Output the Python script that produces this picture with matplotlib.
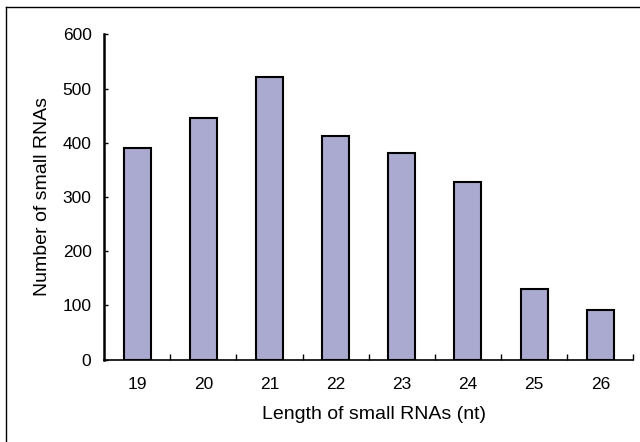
import matplotlib.pyplot as plt
from matplotlib.lines import Line2D

plt.rcParams['font.family'] = ['Liberation Sans', 'DejaVu Sans']

# small RNA length distribution
lengths = ['19', '20', '21', '22', '23', '24', '25', '26']
counts = [390, 446, 522, 413, 382, 327, 131, 92]

fig = plt.figure(figsize=(6.4, 4.42), dpi=100)
ax = fig.add_axes([0.1625, 0.1862, 0.8271, 0.7362])

xpos = range(len(lengths))
ax.bar(xpos, counts, width=0.41, color='#AAAAD0', edgecolor='black', linewidth=1.5, zorder=3)

ax.set_xlim(-0.5, len(lengths) - 0.5)
ax.set_ylim(0, 600)
ax.set_yticks([0, 100, 200, 300, 400, 500, 600])
ax.set_xticks(list(xpos))
ax.set_xticklabels(lengths)
# tick marks sit between the categories
ax.set_xticks([i + 0.5 for i in xpos], minor=True)

ax.tick_params(axis='y', direction='in', length=3, width=1, pad=9, labelsize=12.5)
ax.tick_params(axis='x', which='major', length=0, pad=12.5, labelsize=12.5)
ax.tick_params(axis='x', which='minor', direction='in', length=4, width=1)

ax.spines['top'].set_visible(False)
ax.spines['right'].set_visible(False)
ax.spines['left'].set_linewidth(1.8)
ax.spines['bottom'].set_linewidth(1.2)

ax.set_xlabel('Length of small RNAs (nt)', fontsize=14)
ax.set_ylabel('Number of small RNAs', fontsize=14)
ax.xaxis.set_label_coords(0.51, -0.142)
ax.yaxis.set_label_coords(-0.101, 0.5)

# frame around the chart (only left and top edges show)
fig.add_artist(Line2D([6 / 640, 6 / 640], [0, 1 - 7 / 442], transform=fig.transFigure, color='black', lw=1))
fig.add_artist(Line2D([6 / 640, 1], [1 - 7 / 442, 1 - 7 / 442], transform=fig.transFigure, color='black', lw=1))

fig.savefig('out.png', dpi=100)
